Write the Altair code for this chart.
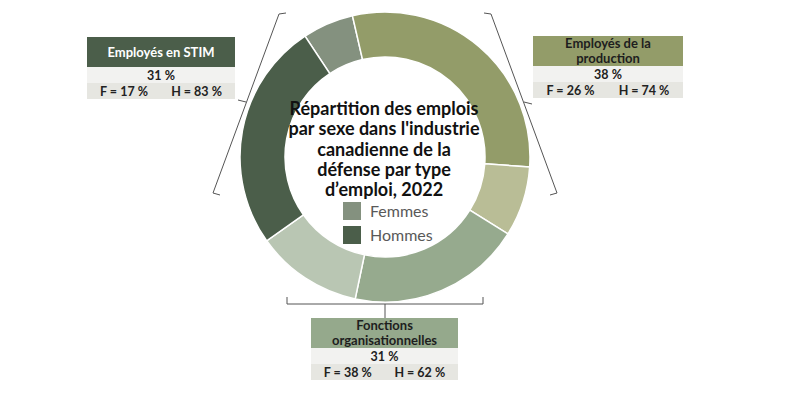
import math
import altair as alt
import pandas as pd

# Parts of the ring, clockwise from the top (share of the circle, %)
segments = ["STIM F", "Production H", "Production F", "Organisation H", "Organisation F", "STIM H"]
segment_share = [5.7, 29.7, 7.8, 19.4, 11.9, 25.5]
segment_color = ["#84917f", "#939c69", "#b9bd96", "#96aa8e", "#b9c6b3", "#4b5e4a"]

# Label boxes
group_title = ["Employés en STIM", "Employés de la\nproduction", "Fonctions\norganisationnelles"]
group_pct = [31, 38, 31]
femmes_pct = [17, 26, 38]
hommes_pct = [83, 74, 62]
group_color = ["#4b5e4a", "#939c69", "#95a98c"]
title_color = ["#ffffff", "#1e1e1e", "#1e1e1e"]
title_lines = [1, 2, 2]

center_title = "Répartition des emplois\npar sexe dans l'industrie\ncanadienne de la\ndéfense par type\nd’emploi, 2022"
legend_labels = ["Femmes", "Hommes"]
legend_color = ["#84917f", "#4b5e4a"]

# layout (page pixels)
CX, CY = 385, 157
R_OUT, R_IN = 145, 100
box_x = [(87, 235), (533, 683), (311, 458)]
box_top = [37, 36, 318]
HEAD, ROW = 30, 16
FONT = "Lato"

xs = alt.Scale(domain=[8, 792], nice=False, zero=False)
ys = alt.Scale(domain=[8, 392], nice=False, zero=False, reverse=True)


def pos(chart, x="x", y="y", x2=None, y2=None):
    enc = dict(x=alt.X(f"{x}:Q", scale=xs, axis=None), y=alt.Y(f"{y}:Q", scale=ys, axis=None))
    if x2:
        enc["x2"] = alt.X2(f"{x2}:Q")
    if y2:
        enc["y2"] = alt.Y2(f"{y2}:Q")
    return chart.encode(**enc)


# ring
start = math.radians(326.5)
arc_df = pd.DataFrame({"seg": segments, "share": segment_share,
                       "k": range(len(segments)), "fill": segment_color})
ring = alt.Chart(arc_df).mark_arc(outerRadius=R_OUT, innerRadius=R_IN, stroke="white", strokeWidth=1.5).encode(
    theta=alt.Theta("share:Q", stack=True, scale=alt.Scale(range=[start, start + 2 * math.pi])),
    order=alt.Order("k:Q"),
    color=alt.Color("fill:N", scale=None),
    x=alt.value(CX - 8), y=alt.value(CY - 8))

# boxes
rects, texts = [], []
for i in range(3):
    x0, x1 = box_x[i]
    t = box_top[i]
    head_y = t + HEAD / 2 + 1 if title_lines[i] == 1 else t + 8
    rects += [dict(x=x0, x2=x1, y=t, y2=t + HEAD, fill=group_color[i]),
              dict(x=x0, x2=x1, y=t + HEAD, y2=t + HEAD + ROW, fill="#f2f2f0"),
              dict(x=x0, x2=x1, y=t + HEAD + ROW, y2=t + HEAD + 2 * ROW, fill="#e6e6e1")]
    texts += [dict(x=(x0 + x1) / 2, y=head_y, text=group_title[i], c=title_color[i], s=13),
              dict(x=(x0 + x1) / 2, y=t + HEAD + ROW / 2 + 1, text=f"{group_pct[i]} %", c="#222222", s=12.5),
              dict(x=x0 + (x1 - x0) * 0.25, y=t + HEAD + 1.5 * ROW + 1, text=f"F = {femmes_pct[i]} %", c="#222222", s=12.5),
              dict(x=x0 + (x1 - x0) * 0.74, y=t + HEAD + 1.5 * ROW + 1, text=f"H = {hommes_pct[i]} %", c="#222222", s=12.5)]
# legend squares
rects += [dict(x=343, x2=361, y=202, y2=220, fill=legend_color[0]),
          dict(x=343, x2=361, y=226, y2=244, fill=legend_color[1])]

box_layer = pos(alt.Chart(pd.DataFrame(rects)).mark_rect(), x2="x2", y2="y2").encode(
    color=alt.Color("fill:N", scale=None))
box_text = pos(alt.Chart(pd.DataFrame(texts)).mark_text(
    font=FONT, fontWeight="bold", align="center", baseline="middle", lineBreak="\n", lineHeight=15)).encode(
    text="text:N", color=alt.Color("c:N", scale=None), size=alt.Size("s:Q", scale=None))

legend_text = pos(alt.Chart(pd.DataFrame({"x": [370, 370], "y": [212, 236], "text": legend_labels})).mark_text(
    font=FONT, fontSize=16, color="#595959", align="left", baseline="middle")).encode(text="text:N")

title = pos(alt.Chart(pd.DataFrame({"x": [CX - 1], "y": [110], "text": [center_title]})).mark_text(
    font=FONT, fontSize=18, fontWeight="bold", color="#111111", align="center", baseline="middle",
    lineBreak="\n", lineHeight=20.3)).encode(text="text:N")

# brackets
segs = [
    (279, 14, 213, 193), (279, 14, 286, 13), (213, 193, 220, 195), (246, 102, 238, 100),
    (491, 14, 557, 193), (491, 14, 484, 13), (557, 193, 550, 195), (524, 102, 532, 104),
    (287, 304, 483, 304), (287, 304, 287, 297), (483, 304, 483, 297), (385, 304, 385, 318),
]
br_df = pd.DataFrame(segs, columns=["x", "y", "x2", "y2"])
brackets = pos(alt.Chart(br_df).mark_rule(color="#555555", strokeWidth=1), x2="x2", y2="y2")

chart = alt.layer(brackets, ring, box_layer, box_text, legend_text, title).properties(
    width=784, height=384, padding=0, autosize="none").configure_view(stroke=None)

chart.save("out.html", embed_options={"renderer": "svg", "actions": False})
